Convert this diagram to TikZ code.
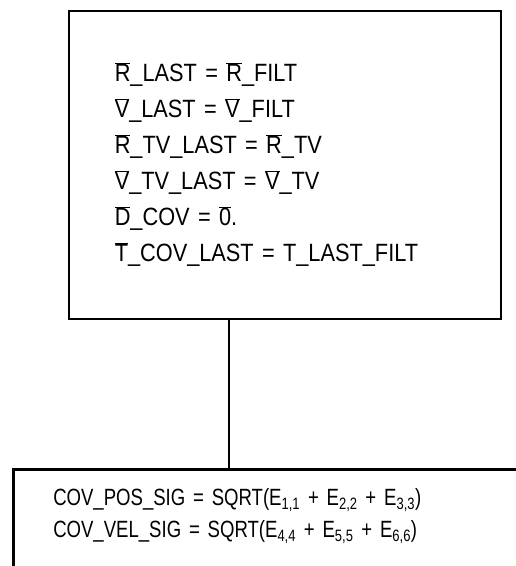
\documentclass[tikz,border=0pt]{standalone}
\usepackage{fontspec}
\setmainfont[FakeStretch=0.87]{Liberation Sans}
\newfontfamily\narrowfont[FakeStretch=0.79]{Liberation Sans}
\usepackage{tikz}
\usetikzlibrary{positioning}

\newcommand{\barsym}[1]{$\overline{\mbox{#1}}$}

\begin{document}
\begin{tikzpicture}[
  x=1pt, y=-1pt,
  box/.style={draw, line width=2.5pt, align=left, inner sep=0pt},
  link/.style={line width=2.5pt}
]
\useasboundingbox (0,0) rectangle (516,566);
\clip (0,0) rectangle (516,566);

\node[box, anchor=north west, minimum width=432pt, minimum height=308pt, text width=340pt,
  font=\fontsize{25}{36}\selectfont] (save) at (67.5,9.5)
  {\barsym{R}\_LAST = \barsym{R}\_FILT\\
   \barsym{V}\_LAST = \barsym{V}\_FILT\\
   \barsym{R}\_TV\_LAST = \barsym{R}\_TV\\
   \barsym{V}\_TV\_LAST = \barsym{V}\_TV\\
   \barsym{D}\_COV = \barsym{0}.\\
   \barsym{T}\_COV\_LAST = T\_LAST\_FILT};
\node[box, anchor=north west, text width=560pt, inner xsep=40pt, inner ysep=19pt, text depth=140pt,
  font=\narrowfont\fontsize{23.5}{32}\selectfont] (sig) at (12,468)
  {COV\_POS\_SIG = SQRT(E\textsubscript{1,1} + E\textsubscript{2,2} + E\textsubscript{3,3})\\
   COV\_VEL\_SIG = SQRT(E\textsubscript{4,4} + E\textsubscript{5,5} + E\textsubscript{6,6})};

\draw[link] ([xshift=-56pt]save.south) -- ([xshift=-56pt]save.south |- sig.north);

\end{tikzpicture}
\end{document}
